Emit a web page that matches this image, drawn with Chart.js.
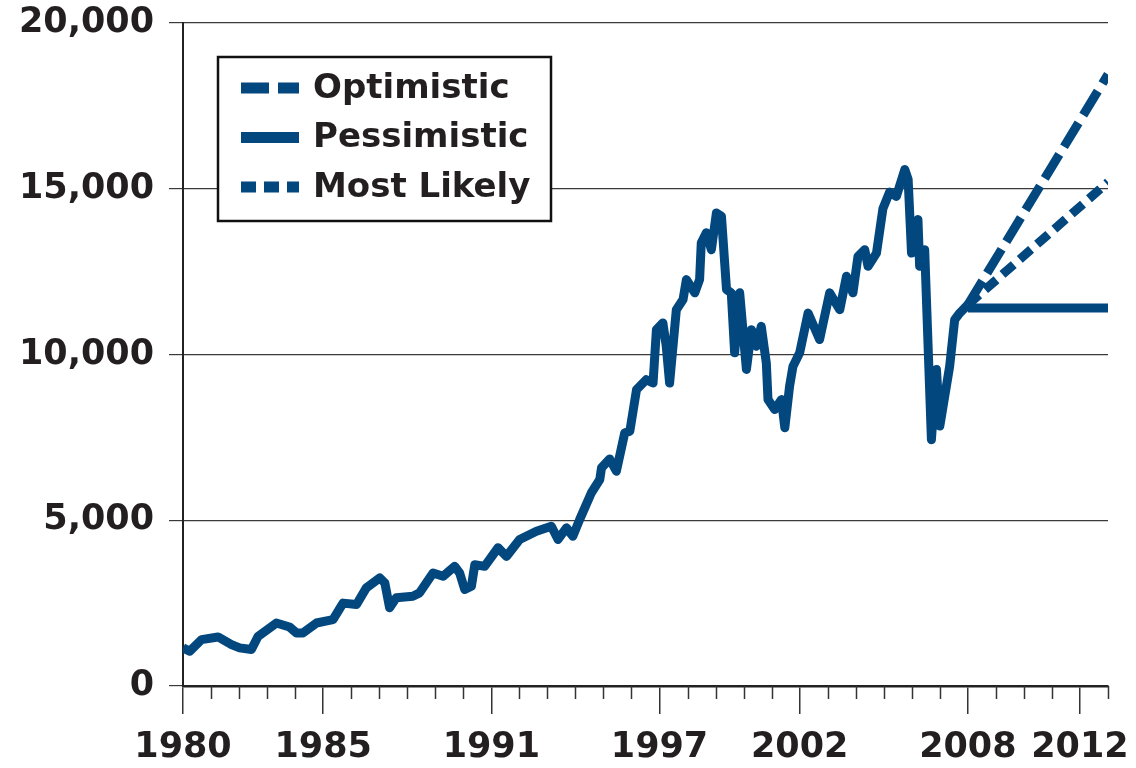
<!DOCTYPE html>
<html lang="en">
<head>
<meta charset="UTF-8">
<title>Index projection</title>
<script src="https://cdn.jsdelivr.net/npm/chart.js"></script>
<style>
  body { margin: 0; background: #fff; }
  #wrap { width: 1136px; height: 768px; }
</style>
</head>
<body>
<div id="wrap"><canvas id="projChart" width="1136" height="768"></canvas></div>
<script>
// history (year, index level)
const histYears = [
  1980.00, 1980.24, 1980.66, 1981.25, 1981.73, 1982.02, 1982.44, 1982.68, 1983.33, 1983.80,
  1984.05, 1984.28, 1984.76, 1985.35, 1985.71, 1986.19, 1986.54, 1987.02, 1987.20, 1987.37,
  1987.61, 1988.20, 1988.44, 1988.92, 1989.28, 1989.69, 1989.87, 1990.05, 1990.29, 1990.41,
  1990.76, 1991.24, 1991.54, 1992.01, 1992.61, 1993.14, 1993.38, 1993.68, 1993.91, 1994.15,
  1994.57, 1994.87, 1994.93, 1995.22, 1995.46, 1995.76, 1995.94, 1996.18, 1996.53, 1996.77,
  1996.89, 1997.12, 1997.24, 1997.36, 1997.60, 1997.84, 1997.96, 1998.26, 1998.43, 1998.49,
  1998.67, 1998.85, 1999.03, 1999.21, 1999.39, 1999.56, 1999.68, 1999.86, 2000.10, 2000.28,
  2000.46, 2000.63, 2000.81, 2000.87, 2001.11, 2001.35, 2001.47, 2001.64, 2001.76, 2002.00,
  2002.30, 2002.71, 2003.07, 2003.43, 2003.67, 2003.90, 2004.08, 2004.32, 2004.44, 2004.74,
  2004.97, 2005.21, 2005.45, 2005.75, 2005.87, 2005.99, 2006.22, 2006.28, 2006.46, 2006.70,
  2006.88, 2007.00, 2007.35, 2007.53, 2007.71, 2008.00
];
const histValues = [
  1150, 1050, 1400, 1480, 1250, 1150, 1100, 1500, 1900, 1780,
  1600, 1600, 1900, 2000, 2500, 2460, 2960, 3260, 3110, 2360,
  2660, 2710, 2810, 3410, 3310, 3610, 3410, 2910, 3010, 3660,
  3610, 4170, 3910, 4420, 4670, 4820, 4420, 4770, 4520, 5020,
  5830, 6230, 6580, 6850, 6480, 7640, 7680, 8940, 9240, 9140,
  10750, 10950, 10250, 9140, 11350, 11660, 12260, 11860, 12260, 13370,
  13670, 13160, 14270, 14170, 11960, 11860, 10050, 11860, 9550, 10750,
  10250, 10850, 9750, 8640, 8340, 8640, 7790, 9040, 9640, 10050,
  11250, 10450, 11860, 11350, 12360, 11860, 12960, 13160, 12660, 13060,
  14400, 14900, 14770, 15580, 15280, 13060, 14070, 12660, 13160, 7430,
  9550, 7840, 9640, 11050, 11250, 11500
];

// projections 2008 -> 2013
const projYears = [2008, 2013];
const optimisticValues = [11500, 18450];
const pessimisticValues = [11400, 11400];
const likelyValues = [11500, 15200];

const majorYears = [1980, 1985, 1991, 1997, 2002, 2008, 2012];
const yTicks = [0, 5000, 10000, 15000, 20000];

const navy = '#03477f';
const ink = '#231f20';

function pts(xs, ys) {
  return xs.map((x, i) => ({ x: x, y: ys[i] }));
}

// short ticks for every year that has no label
const minorTicks = {
  id: 'minorTicks',
  afterDraw(chart) {
    const sx = chart.scales.x;
    const ctx = chart.ctx;
    const bottom = chart.chartArea.bottom;
    ctx.save();
    ctx.strokeStyle = '#333';
    ctx.lineWidth = 1.5;
    for (let yr = sx.min; yr <= sx.max; yr++) {
      if (majorYears.includes(yr)) continue;
      const px = Math.round(sx.getPixelForValue(yr)) + 0.5;
      ctx.beginPath();
      ctx.moveTo(px, bottom);
      ctx.lineTo(px, bottom + 13);
      ctx.stroke();
    }
    ctx.restore();
  }
};

// boxed legend sitting inside the plot
const boxLegend = {
  id: 'boxLegend',
  afterDraw(chart) {
    const ctx = chart.ctx;
    ctx.save();
    ctx.fillStyle = '#fff';
    ctx.fillRect(218, 57, 333, 164);
    ctx.strokeStyle = '#111';
    ctx.lineWidth = 2.5;
    ctx.strokeRect(218, 57, 333, 164);
    const items = chart.data.datasets.filter(d => d.inLegend);
    items.forEach((d, i) => {
      const y = 88 + i * 49.5;
      ctx.beginPath();
      ctx.setLineDash(d.borderDash || []);
      ctx.lineWidth = 11;
      ctx.strokeStyle = d.borderColor;
      ctx.moveTo(241, y);
      ctx.lineTo(299, y);
      ctx.stroke();
      ctx.setLineDash([]);
      ctx.fillStyle = ink;
      ctx.font = 'bold 34px "DejaVu Sans"';
      ctx.textBaseline = 'middle';
      ctx.fillText(d.label, 313, y + 1);
    });
    ctx.restore();
  }
};

const config = {
  type: 'line',
  data: {
    datasets: [
      {
        label: 'History',
        data: pts(histYears, histValues),
        borderColor: navy,
        borderWidth: 9,
        borderJoinStyle: 'round',
        pointRadius: 0,
        tension: 0,
        inLegend: false
      },
      {
        label: 'Optimistic',
        data: pts(projYears, optimisticValues),
        borderColor: navy,
        borderWidth: 9,
        borderDash: [28, 9],
        pointRadius: 0,
        inLegend: true
      },
      {
        label: 'Pessimistic',
        data: pts(projYears, pessimisticValues),
        borderColor: navy,
        borderWidth: 9,
        pointRadius: 0,
        inLegend: true
      },
      {
        label: 'Most Likely',
        data: pts(projYears, likelyValues),
        borderColor: navy,
        borderWidth: 9,
        borderDash: [15, 8],
        pointRadius: 0,
        inLegend: true
      }
    ]
  },
  options: {
    responsive: false,
    animation: false,
    layout: { padding: { top: 23, right: 28, left: 0, bottom: 0 } },
    plugins: {
      legend: { display: false },
      tooltip: { enabled: false }
    },
    scales: {
      x: {
        type: 'linear',
        min: 1980,
        max: 2013,
        afterBuildTicks: s => { s.ticks = majorYears.map(v => ({ value: v })); },
        afterFit: s => { s.height = 82; s.paddingLeft = 0; s.paddingRight = 0; },
        grid: { drawOnChartArea: false, drawTicks: true, tickLength: 28, color: '#333', lineWidth: 1.5 },
        border: { display: true, color: '#222', width: 2.5 },
        ticks: {
          autoSkip: false,
          maxRotation: 0,
          padding: 13,
          color: ink,
          font: { family: 'DejaVu Sans', weight: 'bold', size: 35 },
          callback: v => String(v)
        }
      },
      y: {
        min: 0,
        max: 20000,
        afterBuildTicks: s => { s.ticks = yTicks.map(v => ({ value: v })); },
        afterFit: s => { s.width = 183; s.paddingTop = 0; s.paddingBottom = 0; },
        grid: { drawTicks: true, tickLength: 14, color: '#3a3a3a', lineWidth: 1.2 },
        border: { display: true, color: '#222', width: 2 },
        ticks: {
          padding: 15,
          color: ink,
          font: { family: 'DejaVu Sans', weight: 'bold', size: 35 }
        }
      }
    }
  },
  plugins: [minorTicks, boxLegend]
};

window.onload = function() {
  new Chart(document.getElementById('projChart'), config);
};
</script>
</body>
</html>
